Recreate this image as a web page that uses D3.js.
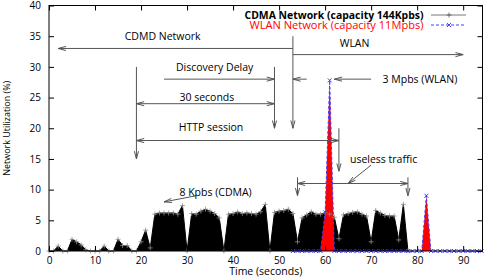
<!DOCTYPE html>
<html>
<head>
<meta charset="utf-8">
<script src="https://cdn.jsdelivr.net/npm/d3@7"></script>
<style>
  body { margin: 0; background: #fff; }
  svg { display: block; }
  .tick text { font-family: "Open Sans", sans-serif; font-size: 10px; fill: #000; }
  .tick line { stroke: #000; }
  .note { font-family: "Open Sans", sans-serif; font-size: 10.5px; fill: #000; }
</style>
</head>
<body>
<div id="chart"></div>
<script>
// DATA

const cdmaTime = [0, 1, 2, 3, 4, 5, 6, 7, 8, 9, 10, 11, 12, 13, 14, 15, 16, 17, 18, 19,
  20, 21, 22, 23, 24, 25, 26, 27, 28, 29, 30, 31, 32, 33, 34, 35, 36, 37, 38, 39,
  40, 41, 42, 43, 44, 45, 46, 47, 48, 49, 50, 51, 52, 53, 54, 55, 56, 57, 58, 59,
  60, 61, 62, 63, 64, 65, 66, 67, 68, 69, 70, 71, 72, 73, 74, 75, 76, 77, 78];
const cdmaValue = [0, 0, 0.8, 0, 0, 1.9, 1.5, 1.0, 0.2, 0, 0, 0, 0.8, 0, 0, 1.9, 0.9, 0.9, 0, 0,
  1.5, 3.4, 0.5, 6.0, 6.2, 6.2, 6.2, 6.2, 6.0, 7.4, 0, 6.1, 6.0, 6.5, 6.8, 6.5, 6.1, 5.4, 0, 6.0,
  6.1, 6.35, 6.1, 6.2, 6.1, 6.0, 6.4, 7.6, 0, 6.3, 6.5, 6.6, 6.8, 6.1, 1.5, 5.4, 5.9, 6.4, 6.0, 6.0,
  6.2, 6.0, 5.5, 2.0, 5.9, 6.1, 6.3, 6.4, 6.0, 5.7, 1.5, 6.6, 6.2, 5.8, 5.7, 5.7, 1.8, 7.6, 0];

const wlanTime = [53, 54, 55, 56, 57, 58, 59, 60, 61, 62, 63, 64, 65, 66, 67, 68, 69, 70, 71, 72, 73,
  74, 75, 76, 77, 78, 79, 80, 81, 82, 83, 84, 85, 86, 87, 88, 89, 90, 91, 92, 93, 94];
const wlanValue = [0, 0, 0, 0, 0, 0, 0, 6.3, 27.8, 0, 0, 0, 0, 0, 0, 0, 0, 0, 0, 0, 0,
  0, 0, 0, 0, 0, 0, 0, 0, 9.0, 0, 0, 0, 0, 0, 0, 0, 0, 0, 0, 0, 0];

const xTicks = [0, 10, 20, 30, 40, 50, 60, 70, 80, 90];
const yTicks = [0, 5, 10, 15, 20, 25, 30, 35, 40];

const legendLabels = ["CDMA Network (capacity 144Kpbs)", "WLAN Network (capacity 11Mpbs)"];

// annotations in data units: text, x, y
const noteText = ["CDMD Network", "WLAN", "Discovery Delay", "30 seconds", "HTTP session",
  "3 Mpbs (WLAN)", "useless traffic", "8 Kpbs (CDMA)"];
const noteX = [24.7, 66.4, 36, 34.3, 35.2, 80.6, 72.7, 36.2];
const noteY = [35, 33.9, 29.9, 25, 20.1, 28, 14.9, 9.6];

// arrows: from (x1,y1) to (x2,y2), heads: 1 = end only, 2 = both ends
const arrowX1 = [53, 53, 53, 25, 49, 19, 19, 19, 63, 56, 70, 70, 54, 54, 78, 32];
const arrowY1 = [33, 32, 35, 28, 30, 30, 24, 18, 20, 28, 28, 14, 11, 12, 12, 9];
const arrowX2 = [2, 90, 53, 49, 49, 19, 49, 63, 63, 53, 62, 65, 78, 54, 78, 25];
const arrowY2 = [33, 32, 20, 28, 20, 15, 24, 18, 13, 28, 28, 11, 11, 9, 9, 8];
const arrowHeads = [1, 1, 1, 1, 1, 1, 2, 2, 1, 1, 1, 1, 2, 1, 1, 1];

// SETUP

const width = 484, height = 277;
const margin = { top: 5.5, right: 1.5, bottom: 26, left: 49 };
const innerWidth = width - margin.left - margin.right;
const innerHeight = height - margin.top - margin.bottom;

const svg = d3.select('#chart').append('svg')
  .attr('width', width)
  .attr('height', height);

const g = svg.append('g')
  .attr('transform', `translate(${margin.left}, ${margin.top})`);

const xScale = d3.scaleLinear().domain([0, 94.2]).range([0, innerWidth]);
const yScale = d3.scaleLinear().domain([0, 40]).range([innerHeight, 0]);

const cdma = cdmaTime.map((t, i) => ({ t: t, v: cdmaValue[i] }));
const wlan = wlanTime.map((t, i) => ({ t: t, v: wlanValue[i] }));

const area = d3.area()
  .x(d => xScale(d.t))
  .y0(yScale(0))
  .y1(d => yScale(d.v));
const line = d3.line()
  .x(d => xScale(d.t))
  .y(d => yScale(d.v));

// CDMA filled curve
g.append('path')
  .attr('fill', '#000')
  .attr('d', area(cdma));
g.append('path')
  .attr('fill', 'none')
  .attr('stroke', '#000')
  .attr('stroke-width', 1)
  .attr('d', line(cdma));

// WLAN filled curve
g.append('path')
  .attr('fill', '#ff0000')
  .attr('d', area(wlan));
g.append('path')
  .attr('fill', 'none')
  .attr('stroke', '#4040ff')
  .attr('stroke-width', 1)
  .attr('stroke-dasharray', '3,2')
  .attr('d', line(wlan));

const plus = (x, y, s) => `M${x - s},${y}H${x + s}M${x},${y - s}V${y + s}`;
const cross = (x, y, s) => `M${x - s},${y - s}L${x + s},${y + s}M${x - s},${y + s}L${x + s},${y - s}`;

g.append('path')
  .attr('fill', 'none')
  .attr('stroke', '#8a8a8a')
  .attr('stroke-width', 0.8)
  .attr('d', cdma.map(d => plus(xScale(d.t), yScale(d.v), 2.5)).join(''));

g.append('path')
  .attr('fill', 'none')
  .attr('stroke', '#3030ff')
  .attr('stroke-width', 0.9)
  .attr('d', wlan.map(d => cross(xScale(d.t), yScale(d.v), 2)).join(''));

// AXES (gnuplot style, inward ticks on all sides)

const xAxisG = g.append('g')
  .attr('transform', `translate(0, ${innerHeight})`)
  .call(d3.axisBottom(xScale).tickValues(xTicks).tickSizeInner(-5).tickSizeOuter(0).tickPadding(6));
const yAxisG = g.append('g')
  .call(d3.axisLeft(yScale).tickValues(yTicks).tickSizeInner(-5).tickSizeOuter(0).tickPadding(8));
const xTopG = g.append('g')
  .call(d3.axisTop(xScale).tickValues(xTicks).tickSizeInner(-5).tickSizeOuter(0).tickFormat(''));
const yRightG = g.append('g')
  .attr('transform', `translate(${innerWidth}, 0)`)
  .call(d3.axisRight(yScale).tickValues(yTicks).tickSizeInner(-5).tickSizeOuter(0).tickFormat(''));
[xAxisG, yAxisG, xTopG, yRightG].forEach(a => a.select('.domain').remove());

g.append('rect')
  .attr('width', innerWidth)
  .attr('height', innerHeight)
  .attr('fill', 'none')
  .attr('stroke', '#000')
  .attr('stroke-width', 1);

svg.append('text')
  .attr('class', 'note')
  .attr('x', margin.left + innerWidth / 2)
  .attr('y', 275)
  .attr('text-anchor', 'middle')
  .text('Time (seconds)');

svg.append('text')
  .attr('class', 'note')
  .attr('transform', `translate(9.5, ${margin.top + innerHeight / 2}) rotate(-90)`)
  .attr('text-anchor', 'middle')
  .attr('textLength', 95)
  .attr('lengthAdjust', 'spacingAndGlyphs')
  .style('font-size', '9.5px')
  .text('Network Utilization (%)');

// ANNOTATIONS

const arrowColor = '#555';
function head(x1, y1, x2, y2) {
  const ang = Math.atan2(y2 - y1, x2 - x1), len = 8, spread = 0.26;
  const a = [x2 - len * Math.cos(ang - spread), y2 - len * Math.sin(ang - spread)];
  const b = [x2 - len * Math.cos(ang + spread), y2 - len * Math.sin(ang + spread)];
  return `M${a[0]},${a[1]}L${x2},${y2}L${b[0]},${b[1]}`;
}

const arrowG = g.append('g')
  .attr('fill', 'none')
  .attr('stroke', arrowColor)
  .attr('stroke-width', 1);

arrowX1.forEach((x1, i) => {
  const px1 = xScale(x1), py1 = yScale(arrowY1[i]);
  const px2 = xScale(arrowX2[i]), py2 = yScale(arrowY2[i]);
  let d = `M${px1},${py1}L${px2},${py2}` + head(px1, py1, px2, py2);
  if (arrowHeads[i] == 2) d += head(px2, py2, px1, py1);
  arrowG.append('path').attr('d', d);
});

g.selectAll('.label').data(noteText).enter().append('text')
  .attr('class', 'note label')
  .attr('x', (d, i) => xScale(noteX[i]))
  .attr('y', (d, i) => yScale(noteY[i]))
  .attr('dy', '0.35em')
  .attr('text-anchor', 'middle')
  .text(d => d);

// LEGEND

const legend = svg.append('g');
const legendY = [15, 25];
const legendColor = ['#000', '#ff0000'];
const legendWidth = [179, 174];

legendLabels.forEach((lab, i) => {
  legend.append('text')
    .attr('class', 'note')
    .attr('x', 423.5)
    .attr('y', legendY[i])
    .attr('dy', '0.35em')
    .attr('text-anchor', 'end')
    .attr('textLength', legendWidth[i])
    .attr('lengthAdjust', 'spacingAndGlyphs')
    .attr('font-weight', i == 0 ? 'bold' : 'normal')
    .style('fill', legendColor[i])
    .style('font-size', '10.5px')
    .text(lab);
});

legend.append('path')
  .attr('stroke', '#555')
  .attr('stroke-width', 0.8)
  .attr('d', `M431,${legendY[0]}H466` + plus(449, legendY[0], 2.5));
legend.append('path')
  .attr('stroke', '#4040ff')
  .attr('stroke-width', 1)
  .attr('stroke-dasharray', '3,2')
  .attr('d', `M431,${legendY[1]}H466`);
legend.append('path')
  .attr('stroke', '#3030ff')
  .attr('stroke-width', 0.9)
  .attr('d', cross(449, legendY[1], 2));
</script>
</body>
</html>
